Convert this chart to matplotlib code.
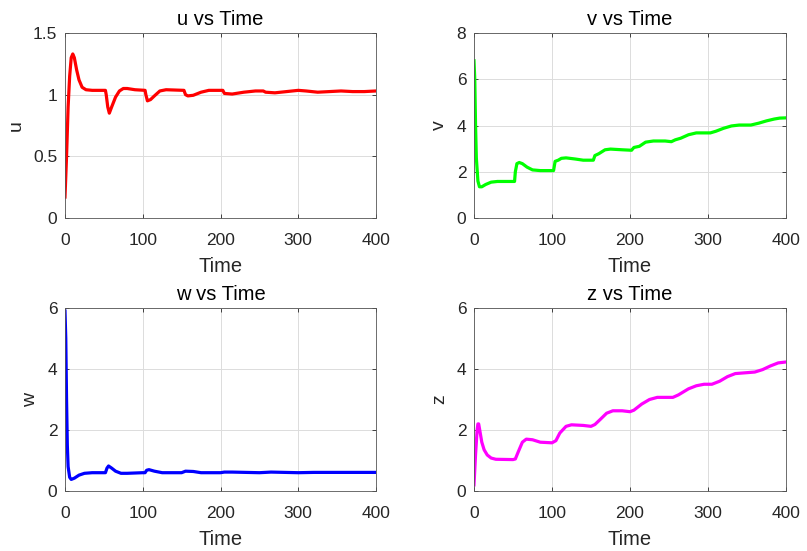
import matplotlib
matplotlib.use("Agg")
import matplotlib.pyplot as plt

plt.rcParams['font.family'] = ['Liberation Sans', 'DejaVu Sans']

# ---- data ----
t_u = [0, 2, 4, 6, 8, 10, 12, 15, 18, 22, 27, 35, 52, 53, 55, 57, 60, 65, 70, 75, 80, 90, 103,
       104, 106, 110, 115, 122, 130, 153, 155, 158, 165, 175, 185, 203, 205, 215, 230, 245, 255,
       258, 270, 285, 300, 310, 325, 340, 355, 370, 385, 400]
u = [0.17, 0.5, 0.9, 1.15, 1.3, 1.33, 1.3, 1.2, 1.12, 1.06, 1.04, 1.035, 1.035, 1.0, 0.9, 0.85,
     0.9, 0.98, 1.03, 1.05, 1.05, 1.04, 1.035, 1.0, 0.95, 0.96, 0.99, 1.03, 1.04, 1.035, 1.0, 0.99,
     0.995, 1.02, 1.035, 1.035, 1.01, 1.005, 1.02, 1.03, 1.03, 1.02, 1.015, 1.025, 1.035, 1.03,
     1.02, 1.025, 1.03, 1.025, 1.025, 1.03]

t_v = [0, 1, 2, 3, 5, 7, 10, 15, 22, 30, 52, 53, 55, 58, 62, 68, 75, 85, 102, 104, 108, 112, 118,
       130, 140, 153, 155, 160, 168, 175, 190, 202, 205, 212, 220, 230, 245, 253, 258, 265, 275,
       285, 300, 303, 310, 320, 330, 340, 355, 365, 375, 385, 392, 400]
v = [6.8, 6.0, 4.0, 2.6, 1.6, 1.35, 1.35, 1.45, 1.55, 1.58, 1.58, 2.0, 2.35, 2.4, 2.35, 2.2,
     2.08, 2.05, 2.05, 2.45, 2.5, 2.58, 2.6, 2.55, 2.5, 2.5, 2.7, 2.78, 2.95, 2.98, 2.95, 2.93,
     3.05, 3.1, 3.28, 3.33, 3.33, 3.3, 3.38, 3.45, 3.6, 3.68, 3.68, 3.68, 3.75, 3.88, 3.98, 4.02,
     4.02, 4.1, 4.2, 4.28, 4.32, 4.33]

t_w = [0, 1, 2, 3, 4, 6, 8, 12, 18, 25, 35, 52, 54, 56, 60, 65, 72, 80, 100, 103, 105, 108, 115,
       125, 150, 155, 165, 175, 200, 205, 215, 250, 265, 300, 320, 400]
w = [5.9, 5.0, 3.0, 1.5, 0.8, 0.45, 0.38, 0.42, 0.52, 0.58, 0.6, 0.6, 0.75, 0.82, 0.75, 0.65,
     0.58, 0.58, 0.6, 0.6, 0.68, 0.7, 0.65, 0.6, 0.6, 0.65, 0.64, 0.6, 0.6, 0.62, 0.62, 0.6,
     0.62, 0.6, 0.61, 0.61]

t_z = [0, 2, 4, 5, 6, 8, 10, 13, 17, 22, 28, 50, 53, 57, 62, 67, 75, 85, 100, 105, 110, 118,
       125, 140, 150, 155, 162, 170, 178, 190, 200, 205, 215, 225, 235, 255, 262, 275, 285, 295,
       305, 315, 325, 335, 350, 360, 370, 380, 390, 400]
z = [0.2, 1.2, 2.0, 2.2, 2.2, 1.9, 1.6, 1.35, 1.18, 1.08, 1.04, 1.03, 1.05, 1.3, 1.6, 1.7,
     1.68, 1.6, 1.58, 1.65, 1.9, 2.12, 2.17, 2.15, 2.12, 2.18, 2.35, 2.55, 2.63, 2.63, 2.6,
     2.65, 2.85, 3.0, 3.07, 3.07, 3.15, 3.35, 3.45, 3.5, 3.5, 3.6, 3.75, 3.85, 3.88, 3.9, 3.98,
     4.1, 4.2, 4.23]

panels = [
    ("u", t_u, u, "#ff0000", (0, 1.5), [0, 0.5, 1, 1.5], ["0", "0.5", "1", "1.5"]),
    ("v", t_v, v, "#00ff00", (0, 8), [0, 2, 4, 6, 8], ["0", "2", "4", "6", "8"]),
    ("w", t_w, w, "#0000ff", (0, 6), [0, 2, 4, 6], ["0", "2", "4", "6"]),
    ("z", t_z, z, "#ff00ff", (0, 6), [0, 2, 4, 6], ["0", "2", "4", "6"]),
]
xticks = [0, 100, 200, 300, 400]

W, H = 807, 551
fig = plt.figure(figsize=(W / 100, H / 100), dpi=100)
boxes = [(65, 33, 376, 218), (474, 33, 786, 218), (65, 308, 376, 491), (474, 308, 786, 491)]

for (name, tt, yy, col, ylim, yt, ytl), (x0, y0, x1, y1) in zip(panels, boxes):
    ax = fig.add_axes([x0 / W, 1 - y1 / H, (x1 - x0) / W, (y1 - y0) / H])
    ax.plot(tt, yy, color=col, lw=2.3)
    ax.set_xlim(0, 400)
    ax.set_ylim(*ylim)
    ax.set_xticks(xticks)
    ax.set_yticks(yt)
    ax.set_yticklabels(ytl)
    ax.grid(True, color="#dcdcdc", lw=0.7)
    ax.set_axisbelow(True)
    ax.tick_params(direction="in", top=True, right=True, length=3, width=0.6,
                   colors="#262626", labelsize=12.5)
    ax.tick_params(axis="x", pad=11)
    ax.tick_params(axis="y", pad=5.5)
    for s in ax.spines.values():
        s.set_color("#555555")
        s.set_linewidth(0.6)
    ax.set_title(f"{name} vs Time", fontsize=14.5, color="black", pad=5.5)
    ax.set_xlabel("Time", fontsize=14.5, color="#262626", labelpad=6)
    ax.set_ylabel(name, fontsize=14, color="#262626", labelpad=6)

fig.savefig("out.png", dpi=100, facecolor="white")
